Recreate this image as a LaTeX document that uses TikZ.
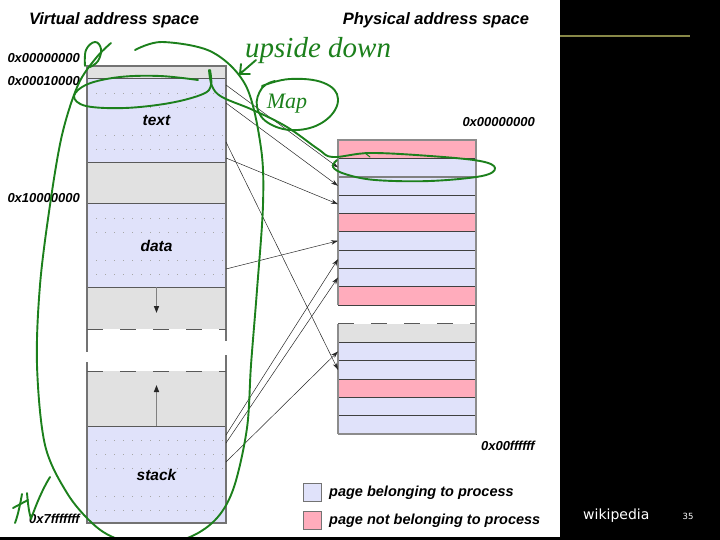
\documentclass[tikz,border=0pt]{standalone}
\usepackage{fontspec}
\setmainfont{Liberation Sans}
\newfontfamily\inkfont{Liberation Serif}
\newfontfamily\slidefont{DejaVu Sans}
\usepackage{tikz}
\usetikzlibrary{positioning,arrows.meta}
\definecolor{lvpage}{RGB}{224,226,250}
\definecolor{pkpage}{RGB}{255,172,188}
\definecolor{grpage}{RGB}{225,225,225}
\definecolor{inkgreen}{RGB}{28,128,28}
\definecolor{slideolive}{RGB}{136,136,72}

\begin{document}
\begin{tikzpicture}[x=1pt, y=-1pt,
  vseg/.style={fill=grpage, minimum width=139pt, inner sep=0pt, outer sep=0pt,
               font=\fontsize{15.5}{16}\selectfont\bfseries\itshape},
  ppage/.style={draw=black!75, line width=0.6pt, fill=lvpage, minimum width=138pt,
                minimum height=18.33pt, inner sep=0pt, outer sep=0pt},
  vframe/.style={draw=black!55, line width=1.1pt},
  vdiv/.style={draw=black!65, line width=1pt},
  pframe/.style={draw=black!45, line width=1.3pt},
  gapdash/.style={draw=black!65, line width=1pt, dash pattern=on 16pt off 17pt},
  pagedots/.style={draw=black!35, line width=0.7pt, dash pattern=on 1.2pt off 7.8pt, dash phase=-9pt},
  maparr/.style={-{Stealth[length=7pt,width=4.5pt]}, draw=black!85, line width=0.5pt},
  growarr/.style={-{Triangle[length=7pt,width=5pt,color=black!85]}, draw=black!50, line width=1.5pt},
  title/.style={font=\fontsize{16.5}{18}\selectfont\bfseries\itshape, inner sep=0pt},
  addr/.style={font=\fontsize{13}{14}\selectfont\bfseries\itshape, inner sep=0pt},
  legbox/.style={draw=black!55, line width=0.8pt, minimum width=18pt, minimum height=18pt, inner sep=0pt},
  legtext/.style={font=\fontsize{14.5}{16}\selectfont\bfseries\itshape, inner sep=0pt},
  ink/.style={draw=inkgreen, line width=1.9pt, line cap=round, line join=round},
  inktext/.style={text=inkgreen, inner sep=0pt}]
  \useasboundingbox (0,0) rectangle (720,540);

  % titles
  \node[title, anchor=base] (vtitle) at (114,25) {Virtual address space};
  \node[title, anchor=base] (ptitle) at (436,25) {Physical address space};

  % virtual address space
  \node[vseg, minimum height=13pt, anchor=north] (vtop) at (156.5,66) {};
  \node[vseg, fill=lvpage, minimum height=84pt, below=0pt of vtop] (vtext) {text};
  \node[vseg, minimum height=41pt, below=0pt of vtext] (vlow) {};
  \node[vseg, fill=lvpage, minimum height=83pt, below=0pt of vlow] (vdata) {data};
  \node[vseg, minimum height=42pt, below=0pt of vdata] (vheap) {};
  \node[vseg, minimum height=55pt, below=42pt of vheap] (vgrow) {};
  \node[vseg, fill=lvpage, minimum height=97pt, below=0pt of vgrow] (vstack) {stack};

  \draw[pagedots] (87,93) -- (226,93) (87,107) -- (226,107) (87,135) -- (226,135) (87,149) -- (226,149)
                  (87,218) -- (226,218) (87,232) -- (226,232) (87,260) -- (226,260) (87,274) -- (226,274)
                  (87,440) -- (226,440) (87,454) -- (226,454) (87,468) -- (226,468)
                  (87,496) -- (226,496) (87,510) -- (226,510);

  \draw[vdiv] (vtext.north west) -- (vtext.north east);
  \draw[vdiv] (vlow.north west) -- (vlow.north east);
  \draw[vdiv] (vdata.north west) -- (vdata.north east);
  \draw[vdiv] (vheap.north west) -- (vheap.north east);
  \draw[vdiv] (vstack.north west) -- (vstack.north east);
  \draw[vframe] (vheap.south west) -- (vtop.north west) -- (vtop.north east) -- (vheap.south east);
  \draw[vframe] (vgrow.north west) -- (vstack.south west) -- (vstack.south east) -- (vgrow.north east);
  \draw[vframe] (vheap.south west) -- ++(0,23);
  \draw[vframe] (vheap.south east) -- ++(0,12);
  \draw[vframe] (vgrow.north west) -- ++(0,-9);
  \draw[vframe] (vgrow.north east) -- ++(0,-16);
  \draw[gapdash] (vheap.south west) -- (vheap.south east);
  \draw[gapdash] (vgrow.north west) -- (vgrow.north east);
  \draw[growarr] (vheap.north) -- ++(0,26);
  \draw[growarr] (vgrow.south) -- ++(0,-41);

  \node[addr, anchor=base east] (a0) at (80,63) {0x00000000};
  \node[addr, anchor=base east] (a1) at (80,86) {0x00010000};
  \node[addr, anchor=base east] (a2) at (80,203) {0x10000000};
  \node[addr, anchor=base east] (a3) at (80,523) {0x7fffffff};

  % physical address space
  \node[ppage, fill=pkpage, anchor=north] (p1) at (407,140) {};
  \node[ppage, below=0pt of p1] (p2) {};
  \node[ppage, below=0pt of p2] (p3) {};
  \node[ppage, below=0pt of p3] (p4) {};
  \node[ppage, fill=pkpage, below=0pt of p4] (p5) {};
  \node[ppage, below=0pt of p5] (p6) {};
  \node[ppage, below=0pt of p6] (p7) {};
  \node[ppage, below=0pt of p7] (p8) {};
  \node[ppage, fill=pkpage, below=0pt of p8] (p9) {};
  \node[ppage, draw=none, fill=grpage, below=19pt of p9] (p10) {};
  \node[ppage, below=0pt of p10] (p11) {};
  \node[ppage, below=0pt of p11] (p12) {};
  \node[ppage, fill=pkpage, below=0pt of p12] (p13) {};
  \node[ppage, below=0pt of p13] (p14) {};
  \node[ppage, below=0pt of p14] (p15) {};
  \draw[gapdash] (p10.north west) -- (p10.north east);
  \draw[draw=black!50, line width=1.8pt] (p3.north west) -- (p3.north east);
  \draw[pframe] (p9.south west) -- (p1.north west) -- (p1.north east) -- (p15.south east);
  \draw[pframe] (p10.north west) -- (p15.south west);
  \draw[draw=black!45, line width=2pt] (p15.south west) -- (p15.south east);

  \node[addr, anchor=base east] (b0) at (535,127) {0x00000000};
  \node[addr, anchor=base east] (b1) at (535,450) {0x00ffffff};

  % page mapping
  \coordinate (vt1) at (226,85);
  \coordinate (vt2) at (226,103);
  \coordinate (vt5) at (226,142);
  \coordinate (vt6) at (226,158);
  \coordinate (vd5) at (226,269);
  \coordinate (vs1) at (226,435);
  \coordinate (vs2) at (226,443);
  \coordinate (vs3) at (226,462);
  \draw[maparr] (vt1) -- (p2.west);
  \draw[maparr] (vt2) -- (p3.west);
  \draw[maparr] (vt6) -- (p4.west);
  \draw[maparr] (vt5) -- (p12.west);
  \draw[maparr] (vd5) -- (p6.west);
  \draw[maparr] (vs1) -- (p7.west);
  \draw[maparr] (vs2) -- (p8.west);
  \draw[maparr] (vs3) -- (p11.west);

  % legend
  \node[legbox, fill=lvpage] (k1) at (312,492) {};
  \node[legbox, fill=pkpage] (k2) at (312,520) {};
  \node[legtext, anchor=base west] (k1t) at (329,496) {page belonging to process};
  \node[legtext, anchor=base west] (k2t) at (329,524) {page not belonging to process};

  % pen notes
  \draw[ink] plot[smooth, tension=0.55] coordinates {(135,50) (162,42) (212,52) (246,86) (261,148)
    (263,205) (257,290) (251,365) (247,428) (234,487) (217,518) (190,537) (150,546) (115,538)
    (92,523) (67,493) (45,445) (37,365) (40,285) (50,205) (62,135) (78,85) (96,58) (111,43)};
  \draw[ink] plot[smooth, tension=0.7] coordinates {(85,66) (86,50) (95,42) (101,49) (98,61) (90,67)};
  \draw[ink] plot[smooth, tension=0.6] coordinates {(198,80) (160,76) (120,77) (88,84) (74,96)
    (86,106) (125,108) (170,103) (203,94) (211,85) (210,70)};
  \draw[ink] plot[smooth, tension=0.6] coordinates {(209,70) (212,86) (222,97) (253,110) (287,127)
    (318,149) (333,157) (370,153) (430,156) (480,161) (495,168) (482,176) (430,181) (375,180)
    (345,174) (333,167) (337,160)};
  \draw[ink, line width=1pt] (365,153) -- (370,157);
  \draw[ink] plot[smooth, tension=0.7] coordinates {(262,86) (290,79) (324,83) (338,99) (326,120)
    (298,130) (270,124) (257,107) (262,88) (275,81)};
  \draw[ink] (256,60) -- (241,73) (241,64) -- (240,74) -- (250,74);
  \node[inktext, anchor=base west, font=\inkfont\itshape\fontsize{29}{29}\selectfont] (wupside) at (245,58) {upside down};
  \node[inktext, font=\inkfont\itshape\fontsize{22}{22}\selectfont] (wmap) at (287,104) {Map};
  \draw[ink] (22,494) .. controls (20,505) and (18,515) .. (15,523);
  \draw[ink] (13,508) -- (28,500);
  \draw[ink] (27,493) .. controls (28,505) and (29,512) .. (31,519) .. controls (36,505) and (42,490) .. (50,477);

  % slide frame
  \fill[black] (560,0) rectangle (720,540);
  \fill[black] (0,537) rectangle (560,540);
  \draw[slideolive, line width=2pt] (560,36.5) -- (690,36.5);
  \node[text=white, font=\slidefont\fontsize{14}{14}\selectfont, anchor=base west, inner sep=0pt] (wsrc) at (583,519) {wikipedia};
  \node[text=white, font=\slidefont\fontsize{8.5}{9}\selectfont, inner sep=0pt] (wpage) at (688,516) {35};
\end{tikzpicture}
\end{document}
